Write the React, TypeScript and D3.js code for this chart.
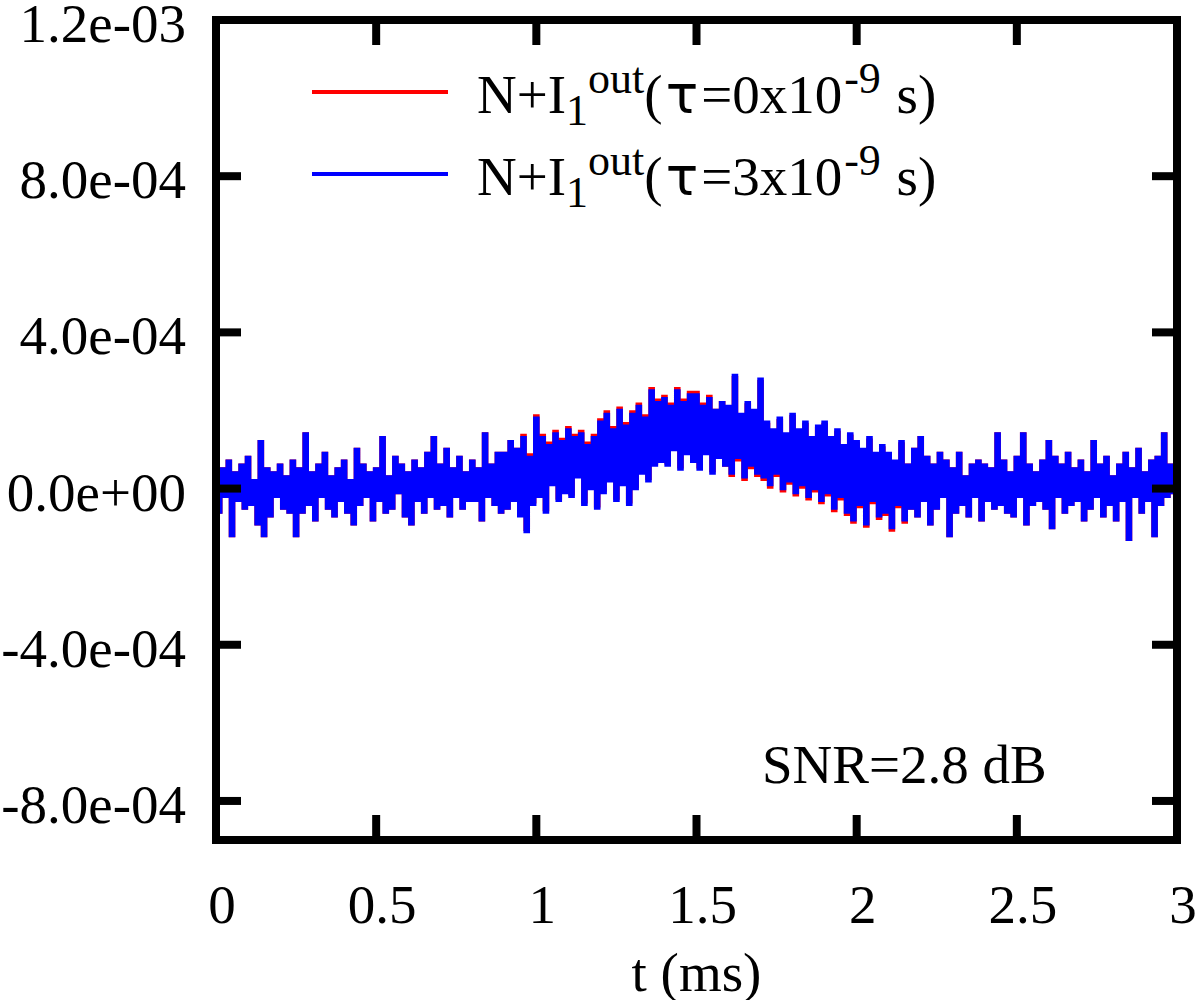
import React, { useEffect, useRef } from 'react';
import * as d3 from 'd3';

// sample spacing of both traces (ms)
const T_STEP = 0.01;
// trace values below are in units of 1e-5
const UNIT = 1e-5;

// N+I1out, tau = 0 ns (red)
const redValues = [
  3, -6, 5, -2, 7, -12, 4, -3, 6, -5,
  8, -4, 2, -9, 12, -12, 5, -7, 4, -2,
  6, -5, 3, -6, 7, -12, 5, -6, 14, -4,
  4, -8, 6, -2, 9, -5, 3, -7, 5, -3,
  7, -6, 2, -9, 10, -4, 6, -2, 4, -8,
  5, -3, 13, -6, 3, -5, 8, -1, 6, -7,
  4, -9, 7, -3, 5, -6, 9, -2, 13, -5,
  6, -4, 10, -7, 5, -2, 8, -5, 4, -3,
  7, -3, 5, -8, 14, -2, 6, -4, 9, -6,
  9, -5, 12, -3, 10, -6.4, 13.6, -10.4, 8.6, -3.4,
  18.6, -1.4, 13.6, -5.4, 11.6, 1.6, 14.6, -2.4, 12.6, -0.4,
  15.6, -1.4, 13.6, 3.6, 14.6, -3.4, 11.6, 0.6, 13.6, -4.4,
  17.6, -0.4, 19.6, 2.6, 15.6, -2.4, 20.6, 1.6, 16.6, -3.4,
  19.6, 0.6, 21.6, 4.6, 18.6, 2.6, 25.6, 6.6, 22.6, 7.6,
  23.6, 6.6, 21.6, 10.6, 25.6, 5.6, 22.6, 9.6, 24.6, 7.6,
  24.6, 5.6, 21.6, 9.6, 23.6, 4.6, 20, 8, 22, 6,
  20.4, 3.4, 28.4, 7.4, 18.4, 2.4, 21.4, 5.4, 19.4, 3.4,
  27.4, 2.4, 16.4, 0.4, 14.4, 3.4, 17.4, -0.6, 13.4, 1.4,
  18.4, -1.6, 14.4, 0.4, 16.4, -2.6, 12.4, -0.6, 15.4, -3.6,
  16.4, -1.6, 12.4, -5.6, 14.4, -2.6, 10.4, -6.6, 13.4, -8.6,
  11.4, -4.6, 9.4, -9.6, 12.4, -3.6, 8.4, -7.6, 10.4, -6.6,
  8.4, -10.6, 6.4, -4.6, 11.4, -8.6, 6, -5, 10, -7,
  13, -3, 8, -9, 6, -5, 9, -2, 7, -12,
  5, -6, 9, -4, 3, -7, 6, -2, 7, -8,
  6, -3, 5, -5, 14, -4, 7, -6, 4, -7,
  8, -2, 14, -9, 6, -4, 4, -3, 7, -5,
  12, -10, 8, -2, 6, -6, 9, -4, 5, -3,
  7, -8, 4, -5, 12, -2, 6, -7, 8, -4,
  3, -8, 6, -3, 9, -13, 5, -2, 10, -6,
  4, -3, 7, -12, 8, -4, 14, -2, 6, -1,
  3
];

// N+I1out, tau = 3 ns (blue)
const blueValues = [
  3, -6, 5, -2, 7, -12, 4, -3, 6, -5,
  8, -4, 2, -9, 12, -12, 5, -7, 4, -2,
  6, -5, 3, -6, 7, -12, 5, -6, 14, -4,
  4, -8, 6, -2, 9, -5, 3, -7, 5, -3,
  7, -6, 2, -9, 10, -4, 6, -2, 4, -8,
  5, -3, 13, -6, 3, -5, 8, -1, 6, -7,
  4, -9, 7, -3, 5, -6, 9, -2, 13, -5,
  6, -4, 10, -7, 5, -2, 8, -5, 4, -3,
  7, -3, 5, -8, 14, -2, 6, -4, 9, -6,
  9, -5, 12, -3, 10, -7, 13, -11, 8, -4,
  18, -2, 13, -6, 11, 1, 14, -3, 12, -1,
  15, -2, 13, 3, 14, -4, 11, 0, 13, -5,
  17, -1, 19, 2, 15, -3, 20, 1, 16, -4,
  19, 0, 21, 4, 18, 2, 25, 6, 22, 7,
  23, 6, 21, 10, 25, 5, 22, 9, 24, 7,
  24, 5, 21, 9, 23, 4, 20, 8, 22, 6,
  21, 4, 29, 8, 19, 3, 22, 6, 20, 4,
  28, 3, 17, 1, 15, 4, 18, 0, 14, 2,
  19, -1, 15, 1, 17, -2, 13, 0, 16, -3,
  17, -1, 13, -5, 15, -2, 11, -6, 14, -8,
  12, -4, 10, -9, 13, -3, 9, -7, 11, -6,
  9, -10, 7, -4, 12, -8, 6, -5, 10, -7,
  13, -3, 8, -9, 6, -5, 9, -2, 7, -12,
  5, -6, 9, -4, 3, -7, 6, -2, 7, -8,
  6, -3, 5, -5, 14, -4, 7, -6, 4, -7,
  8, -2, 14, -9, 6, -4, 4, -3, 7, -5,
  12, -10, 8, -2, 6, -6, 9, -4, 5, -3,
  7, -8, 4, -5, 12, -2, 6, -7, 8, -4,
  3, -8, 6, -3, 9, -13, 5, -2, 10, -6,
  4, -3, 7, -12, 8, -4, 14, -2, 6, -1,
  3
];

const xTicks = [0, 0.5, 1, 1.5, 2, 2.5, 3];
const yTicks = [-8e-4, -4e-4, 0, 4e-4, 8e-4, 1.2e-3];
const legendTaus = ['0', '3'];
const seriesColors = ['#ff0000', '#0000ff'];

const fmtY = (v: number) =>
  (Math.abs(v) < 1e-12 ? 0 : v).toExponential(1).replace(/e([+-])(\d)$/, 'e$10$2');

const App = () => {
  const chartRef = useRef<HTMLDivElement>(null);

  useEffect(() => {
    const width = 1200;
    const height = 1000;
    const left = 216, right = 1177, top = 20, bottom = 840;
    const font = '"Liberation Serif", "Times New Roman", serif';

    const x = d3.scaleLinear().domain([0, 3]).range([left, right]);
    const y = d3.scaleLinear().domain([-9e-4, 1.2e-3]).range([bottom, top]);

    const svg = d3.create('svg')
      .attr('width', width)
      .attr('height', height)
      .attr('viewBox', [0, 0, width, height])
      .attr('style', 'position:absolute; left:0; top:0; background:#fff;')
      .attr('font-family', font);

    svg.append('clipPath').attr('id', 'plotclip')
      .append('rect')
      .attr('x', left).attr('y', top)
      .attr('width', right - left).attr('height', bottom - top);

    // dense noisy trace: step rendering fills the band like the original plot
    const line = d3.line<number>()
      .curve(d3.curveStep)
      .x((_, i) => x(i * T_STEP))
      .y(d => y(d * UNIT));

    const traces = svg.append('g').attr('clip-path', 'url(#plotclip)');
    [redValues, blueValues].forEach((vals, k) => {
      traces.append('path')
        .attr('d', line(vals))
        .attr('fill', 'none')
        .attr('stroke', seriesColors[k])
        .attr('stroke-width', 3.4)
        .attr('stroke-linejoin', 'miter');
    });

    // frame + ticks (mirrored on all sides)
    const axes = svg.append('g').attr('stroke', '#000').attr('stroke-width', 8);
    axes.append('rect')
      .attr('x', left).attr('y', top)
      .attr('width', right - left).attr('height', bottom - top)
      .attr('fill', 'none');
    const tl = 25;
    xTicks.forEach(t => {
      axes.append('line').attr('x1', x(t)).attr('x2', x(t)).attr('y1', bottom).attr('y2', bottom - tl);
      axes.append('line').attr('x1', x(t)).attr('x2', x(t)).attr('y1', top).attr('y2', top + tl);
    });
    yTicks.forEach(v => {
      axes.append('line').attr('x1', left).attr('x2', left + tl).attr('y1', y(v)).attr('y2', y(v));
      axes.append('line').attr('x1', right).attr('x2', right - tl).attr('y1', y(v)).attr('y2', y(v));
    });

    // tick labels
    svg.append('g')
      .attr('font-size', 55)
      .attr('text-anchor', 'middle')
      .selectAll('text')
      .data(xTicks)
      .join('text')
      .attr('x', d => x(d) + 6)
      .attr('y', 923)
      .text(d => String(d));

    svg.append('g')
      .attr('font-size', 55)
      .attr('text-anchor', 'end')
      .selectAll('text')
      .data(yTicks)
      .join('text')
      .attr('x', 186)
      .attr('y', d => y(d) + 22)
      .text(d => fmtY(d));

    // axis title
    svg.append('text')
      .attr('x', (left + right) / 2)
      .attr('y', 991)
      .attr('font-size', 55)
      .attr('text-anchor', 'middle')
      .text('t (ms)');

    // legend
    const legendY = [92, 174];
    legendTaus.forEach((tau, k) => {
      const ly = legendY[k];
      svg.append('line')
        .attr('x1', 312).attr('x2', 448)
        .attr('y1', ly).attr('y2', ly)
        .attr('stroke', seriesColors[k])
        .attr('stroke-width', 4);
      const txt = svg.append('text')
        .attr('x', 477)
        .attr('y', ly + 21)
        .attr('font-size', 55);
      txt.append('tspan').text('N+I');
      txt.append('tspan').attr('font-size', 44).attr('dy', 12).text('1');
      txt.append('tspan').attr('font-size', 44).attr('dy', -32).text('out');
      txt.append('tspan').attr('dy', 20).text('(');
      txt.append('tspan').attr('font-family', '"DejaVu Sans", sans-serif').attr('font-size', 54).attr('dx', 3).text('τ');
      txt.append('tspan').attr('dx', 3).text(`=${tau}x10`);
      txt.append('tspan').attr('font-size', 44).attr('dx', 2).attr('dy', -20).text('-9');
      txt.append('tspan').attr('dy', 20).attr('dx', 2).text('\u00a0s)');
    });

    svg.append('text')
      .attr('x', 762)
      .attr('y', 783)
      .attr('font-size', 55)
      .text('SNR=2.8 dB');

    if (chartRef.current) {
      chartRef.current.innerHTML = '';
      chartRef.current.appendChild(svg.node()!);
    }
  }, []);

  return <div ref={chartRef} style={{ width: 1200, height: 1000 }}></div>;
};

export default App;
